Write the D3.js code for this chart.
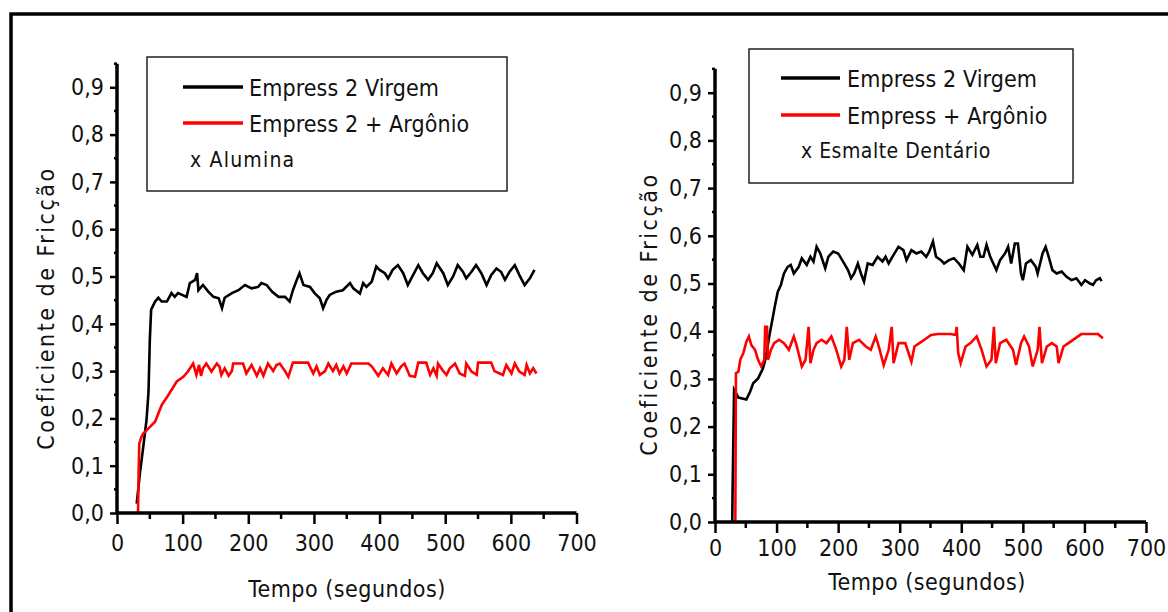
<!DOCTYPE html>
<html>
<head>
<meta charset="utf-8">
<script src="https://cdn.jsdelivr.net/npm/d3@7"></script>
<style>
  body { margin: 0; background: #fff; }
  text { font-family: "Liberation Sans Narrow", "Arial Narrow", "DejaVu Sans Condensed", sans-serif; fill: #111; }
</style>
</head>
<body>
<div id="chart"></div>
<script>

// ---- data: [tempo (s), coeficiente] ----
var aluminaVirgem = [
  [30,0.02],[35,0.085],[40,0.14],[45,0.197],[48,0.256],[50,0.366],[52,0.43],[58,0.447],[63,0.455],
  [68,0.447],[76,0.447],[83,0.465],[88,0.457],[93,0.465],[106,0.457],[111,0.486],[119,0.493],[122,0.507],
  [124,0.471],[131,0.482],[139,0.468],[147,0.457],[155,0.454],[160,0.433],[164,0.455],[175,0.465],
  [185,0.471],[195,0.482],[205,0.475],[215,0.478],[220,0.486],[228,0.482],[236,0.468],[246,0.457],
  [256,0.457],[263,0.447],[268,0.471],[274,0.493],[278,0.507],[284,0.482],[294,0.478],[301,0.465],
  [309,0.454],[314,0.433],[319,0.45],[324,0.461],[334,0.468],[344,0.471],[355,0.486],[360,0.475],
  [370,0.464],[375,0.486],[380,0.478],[388,0.489],[395,0.521],[400,0.514],[408,0.507],[413,0.496],
  [420,0.514],[428,0.524],[436,0.507],[443,0.482],[451,0.503],[459,0.524],[466,0.507],[474,0.493],
  [481,0.507],[487,0.528],[497,0.507],[504,0.482],[512,0.5],[519,0.524],[527,0.51],[532,0.496],
  [540,0.51],[547,0.524],[555,0.507],[563,0.482],[570,0.503],[578,0.517],[585,0.51],[591,0.493],
  [598,0.51],[606,0.524],[613,0.503],[621,0.482],[629,0.496],[636,0.514]
];

var aluminaArgonio = [
  [32,0],[33,0.09],[34,0.147],[37,0.16],[40,0.168],[48,0.179],[58,0.193],[68,0.228],[78,0.249],
  [91,0.278],[101,0.288],[108,0.299],[116,0.316],[121,0.292],[125,0.313],[128,0.29],[131,0.306],
  [136,0.316],[144,0.299],[152,0.316],[156,0.31],[159,0.292],[164,0.306],[170,0.29],[175,0.3],
  [177,0.316],[192,0.316],[197,0.295],[205,0.313],[213,0.29],[218,0.306],[223,0.29],[230,0.316],
  [238,0.3],[243,0.313],[248,0.316],[256,0.3],[261,0.288],[268,0.318],[291,0.318],[299,0.295],
  [304,0.31],[309,0.292],[317,0.3],[322,0.316],[329,0.3],[334,0.313],[339,0.295],[345,0.31],
  [350,0.295],[357,0.316],[383,0.316],[388,0.31],[393,0.3],[398,0.29],[405,0.306],[413,0.292],
  [418,0.316],[426,0.295],[433,0.31],[438,0.316],[446,0.29],[454,0.288],[459,0.318],[471,0.318],
  [477,0.292],[482,0.306],[487,0.29],[489,0.316],[497,0.3],[502,0.292],[507,0.306],[515,0.316],
  [522,0.295],[530,0.29],[532,0.316],[540,0.299],[548,0.292],[550,0.318],[570,0.318],[575,0.3],
  [583,0.295],[588,0.292],[593,0.313],[601,0.295],[606,0.316],[613,0.299],[621,0.292],[624,0.313],
  [629,0.295],[634,0.306],[639,0.295]
];

var esmalteVirgem = [
  [28,0],[28.5,0.06],[31,0.277],[38,0.261],[51,0.257],[57,0.273],[62,0.291],[70,0.301],[78,0.322],
  [83,0.347],[88,0.389],[94,0.43],[97,0.451],[102,0.483],[107,0.497],[112,0.521],[118,0.535],
  [123,0.539],[128,0.521],[136,0.535],[141,0.553],[149,0.539],[155,0.556],[160,0.546],[165,0.577],
  [171,0.563],[179,0.532],[184,0.556],[192,0.567],[200,0.563],[208,0.546],[216,0.528],[221,0.511],
  [226,0.521],[232,0.542],[237,0.521],[242,0.504],[248,0.542],[256,0.539],[264,0.556],[272,0.546],
  [277,0.556],[282,0.542],[290,0.56],[298,0.577],[306,0.57],[311,0.549],[319,0.57],[327,0.563],
  [335,0.567],[343,0.556],[348,0.567],[354,0.588],[359,0.556],[367,0.549],[372,0.542],[380,0.549],
  [388,0.553],[396,0.542],[404,0.528],[410,0.577],[418,0.56],[426,0.581],[431,0.556],[436,0.556],
  [441,0.581],[447,0.556],[452,0.542],[457,0.528],[463,0.549],[471,0.563],[476,0.577],[481,0.542],
  [487,0.584],[492,0.584],[497,0.521],[500,0.507],[505,0.542],[513,0.549],[521,0.535],[524,0.521],
  [532,0.563],[537,0.577],[542,0.556],[548,0.528],[555,0.521],[563,0.525],[571,0.514],[579,0.507],
  [587,0.511],[595,0.497],[601,0.507],[609,0.5],[614,0.497],[619,0.507],[625,0.511],[628,0.505]
];

var esmalteArgonio = [
  [33,0],[34,0.312],[38,0.315],[41,0.34],[46,0.354],[51,0.378],[55,0.389],[59,0.371],[65,0.361],
  [70,0.34],[75,0.326],[80,0.34],[81.5,0.409],[84.5,0.409],[86,0.34],[91,0.361],[96,0.375],
  [104,0.382],[112,0.375],[120,0.361],[128,0.389],[133,0.368],[141,0.326],[147,0.34],[152,0.409],
  [155,0.333],[160,0.361],[165,0.375],[173,0.382],[181,0.375],[189,0.389],[197,0.361],[205,0.326],
  [210,0.34],[214,0.409],[218,0.34],[224,0.375],[234,0.382],[245,0.368],[253,0.361],[261,0.389],
  [266,0.368],[274,0.329],[282,0.361],[287,0.409],[290,0.333],[298,0.375],[309,0.375],[319,0.336],
  [324,0.368],[332,0.375],[340,0.382],[351,0.392],[362,0.394],[383,0.394],[391,0.392],[392.5,0.409],
  [395,0.354],[399,0.333],[407,0.368],[415,0.375],[425,0.389],[433,0.361],[441,0.326],[449,0.34],
  [453,0.409],[456,0.333],[463,0.375],[473,0.382],[484,0.361],[489,0.329],[497,0.375],[502,0.389],
  [510,0.368],[516,0.326],[524,0.361],[527,0.409],[531,0.333],[539,0.368],[547,0.375],[555,0.368],
  [558,0.333],[566,0.368],[574,0.375],[585,0.385],[595,0.394],[622,0.394],[630,0.385]
];

var yTicks = [0, 0.1, 0.2, 0.3, 0.4, 0.5, 0.6, 0.7, 0.8, 0.9];
var yTickLabels = ["0,0", "0,1", "0,2", "0,3", "0,4", "0,5", "0,6", "0,7", "0,8", "0,9"];
var xTicks = [0, 100, 200, 300, 400, 500, 600, 700];
var seriesColors = ["#000000", "#ff0000"];

var yTitle = "Coeficiente de Fricção";
var xTitle = "Tempo (segundos)";

var width = 1168, height = 612;

var svg = d3.select("#chart").append("svg")
    .attr("width", width)
    .attr("height", height);

// outer frame (top and left edges visible)
svg.append("path")
    .attr("d", "M11," + height + "V14H" + width)
    .attr("fill", "none")
    .attr("stroke", "#000")
    .attr("stroke-width", 3.5);

var panels = [
    {
        series: [aluminaVirgem, aluminaArgonio],
        left: 117, right: 576.5, bottom: 513, per01: 47.3,
        legend: {x: 147, y: 57, w: 360, h: 134, lineX1: 183, lineX2: 243, textX: 249,
                 rows: [87, 123], thirdX: 190, thirdY: 167, thirdSpacing: 1.2,
                 labels: ["Empress 2 Virgem", "Empress 2 + Argônio", "x Alumina"]},
        xTitleX: 347, xTitleY: 597, yTitleX: 54, yTitleY: 308, tickLabelY: 552
    },
    {
        series: [esmalteVirgem, esmalteArgonio],
        left: 715, right: 1146, bottom: 522, per01: 47.7,
        legend: {x: 749, y: 49, w: 324, h: 134, lineX1: 781, lineX2: 840, textX: 847,
                 rows: [78, 115], thirdX: 801, thirdY: 158, thirdSpacing: 0.5,
                 labels: ["Empress 2 Virgem", "Empress + Argônio", "x Esmalte Dentário"]},
        xTitleX: 927, xTitleY: 590, yTitleX: 657, yTitleY: 314, tickLabelY: 557
    }
];

panels.forEach(function(p) {

    var x = d3.scaleLinear()
        .domain([0, 700])
        .range([p.left, p.right]);

    var y = d3.scaleLinear()
        .domain([0, 0.95])
        .range([p.bottom, p.bottom - 9.5 * p.per01]);

    var g = svg.append("g");

    // data lines
    var line = d3.line()
        .x(d => x(d[0]))
        .y(d => y(d[1]));

    p.series.forEach(function(s, i) {
        g.append("path")
            .datum(s)
            .attr("d", line)
            .attr("fill", "none")
            .attr("stroke", seriesColors[i])
            .attr("stroke-width", 2.6)
            .attr("stroke-linejoin", "miter");
    });

    // y axis
    var yAxis = g.append("g")
        .attr("transform", "translate(" + p.left + ",0)")
        .call(d3.axisLeft(y)
            .tickValues(yTicks)
            .tickFormat((d, i) => yTickLabels[i])
            .tickSize(7)
            .tickPadding(6));

    // minor y ticks
    g.append("g").selectAll("line")
        .data(d3.range(0.05, 0.96, 0.1))
        .enter()
        .append("line")
        .attr("x1", p.left - 3)
        .attr("x2", p.left)
        .attr("y1", d => y(d))
        .attr("y2", d => y(d))
        .attr("stroke", "#000")
        .attr("stroke-width", 2.5);

    // x axis
    var xAxis = g.append("g")
        .attr("transform", "translate(0," + p.bottom + ")")
        .call(d3.axisBottom(x)
            .tickValues(xTicks)
            .tickSize(11)
            .tickPadding(p.tickLabelY - p.bottom - 28));

    // minor x ticks
    g.append("g").selectAll("line")
        .data(d3.range(50, 700, 100))
        .enter()
        .append("line")
        .attr("x1", d => x(d))
        .attr("x2", d => x(d))
        .attr("y1", p.bottom)
        .attr("y2", p.bottom + 6)
        .attr("stroke", "#000")
        .attr("stroke-width", 2.5);

    [yAxis, xAxis].forEach(function(a) {
        a.select(".domain")
            .attr("stroke", "#000")
            .attr("stroke-width", 3.5);
        a.selectAll(".tick line")
            .attr("stroke", "#000")
            .attr("stroke-width", 2.5);
        a.selectAll(".tick text")
            .attr("font-family", null)
            .attr("font-size", 23)
            .attr("fill", "#111");
    });

    // plain axis lines, no end caps
    xAxis.select(".domain").attr("d", "M" + p.left + ",0H" + p.right);
    yAxis.select(".domain").attr("d", "M0," + y(0.95) + "V" + p.bottom);

    // axis titles
    g.append("text")
        .attr("x", p.xTitleX)
        .attr("y", p.xTitleY)
        .attr("text-anchor", "middle")
        .attr("font-size", 23)
        .attr("letter-spacing", 0.5)
        .text(xTitle);

    g.append("text")
        .attr("transform", "translate(" + p.yTitleX + "," + p.yTitleY + ") rotate(-90)")
        .attr("text-anchor", "middle")
        .attr("font-size", 23)
        .attr("letter-spacing", 2.5)
        .text(yTitle);

    // legend
    var L = p.legend;
    var leg = g.append("g");

    leg.append("rect")
        .attr("x", L.x)
        .attr("y", L.y)
        .attr("width", L.w)
        .attr("height", L.h)
        .attr("fill", "#fff")
        .attr("stroke", "#222")
        .attr("stroke-width", 1.5);

    L.rows.forEach(function(ry, i) {
        leg.append("line")
            .attr("x1", L.lineX1)
            .attr("x2", L.lineX2)
            .attr("y1", ry)
            .attr("y2", ry)
            .attr("stroke", seriesColors[i])
            .attr("stroke-width", 3.4);

        leg.append("text")
            .attr("x", L.textX)
            .attr("y", ry + 9)
            .attr("font-size", 23)
            .attr("letter-spacing", 0.1)
            .text(L.labels[i]);
    });

    leg.append("text")
        .attr("x", L.thirdX)
        .attr("y", L.thirdY)
        .attr("font-size", 21)
        .attr("letter-spacing", L.thirdSpacing)
        .text(L.labels[2]);
});

</script>
</body>
</html>
